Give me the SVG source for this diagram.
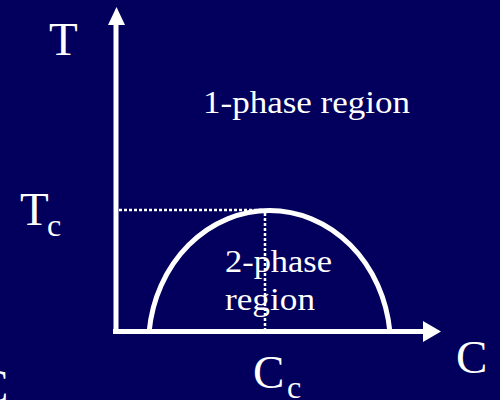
<svg xmlns="http://www.w3.org/2000/svg" width="500" height="400" viewBox="0 0 500 400">
<style>
.lbl{font-family:"Liberation Serif","DejaVu Serif",serif;fill:#ffffff}
.axis{stroke:#ffffff;stroke-width:5;fill:none}
.dot{stroke:#ffffff;stroke-width:2.5;stroke-dasharray:3 2;fill:none}
.head{fill:#ffffff}
</style>
<rect x="0" y="0" width="500" height="400" fill="#02005c"/>
<g id="connectors">
<line class="axis" x1="116" y1="334" x2="116" y2="22"/>
<polygon class="head" points="116.5,7 108,25 125,25"/>
<line class="axis" x1="113" y1="331.5" x2="425" y2="331.5"/>
<polygon class="head" points="441,331.5 423,321 423,342"/>
<line class="dot" x1="119" y1="210" x2="262" y2="210"/>
<line class="dot" x1="265" y1="213" x2="265" y2="329"/>
</g>
<g id="curve">
<path d="M149.2,331 A121,135 0 0 1 389.8,331" fill="none" stroke="#ffffff" stroke-width="5"/>
</g>
<g id="labels">
<text class="lbl" x="49" y="55" font-size="47">T</text>
<text class="lbl" x="20" y="225" font-size="47">T</text>
<text class="lbl" x="47" y="236" font-size="32">c</text>
<text class="lbl" x="456" y="373" font-size="47">C</text>
<text class="lbl" x="253" y="388" font-size="47">C</text>
<text class="lbl" x="287" y="398" font-size="32">c</text>
<text class="lbl" x="-23" y="402" font-size="47">C</text>
<text class="lbl" x="203" y="113" font-size="32" textLength="207" lengthAdjust="spacingAndGlyphs">1-phase region</text>
<text class="lbl" x="225" y="272" font-size="32" textLength="107" lengthAdjust="spacingAndGlyphs">2-phase</text>
<text class="lbl" x="225" y="310" font-size="32" textLength="90" lengthAdjust="spacingAndGlyphs">region</text>
</g>
</svg>
